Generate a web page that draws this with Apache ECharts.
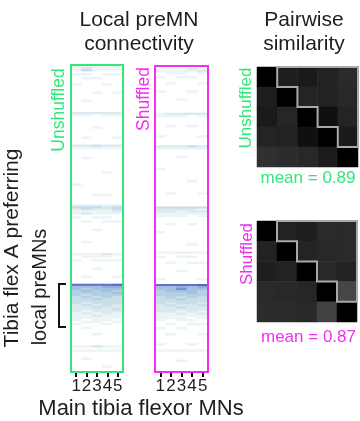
<!DOCTYPE html>
<html>
<head>
<meta charset="utf-8">
<script src="https://cdn.jsdelivr.net/npm/echarts@6/dist/echarts.min.js"></script>
<style>
html,body{margin:0;padding:0;background:#fff;}
#chart{width:360px;height:421px;}
</style>
</head>
<body>
<div id="chart"></div>
<script>
// ---------- DATA ----------
var mnLabels = ['1', '2', '3', '4', '5'];
var rowCount = 150;
// sparse rows: [rowIndex, MN1, MN2, MN3, MN4, MN5]  (0 = no connection, 10 = strongest)
var unshuffledRows = [
  [1,1,2,1,1,1],[2,1,3,1,1,1],[4,1,1,0,1,1],[6,0,1,1,0,0],[9,1,0,0,1,0],[13,0,0,1,0,1],[17,0,1,0,0,0],
  [23,2,2,2,2,2],[24,1,1,0,1,1],[30,0,0,1,0,0],[35,0,1,0,0,1],[39,2,2,3,2,2],[40,1,1,1,1,1],
  [45,0,1,0,0,0],[52,0,0,0,1,0],[58,1,0,0,0,0],[63,0,0,1,1,0],[68,1,1,1,1,1],[69,3,3,3,2,3],
  [70,2,3,2,2,3],[71,1,1,1,1,2],[72,1,2,1,1,1],[74,1,0,1,1,0],[76,0,1,0,1,1],[80,0,0,1,0,0],
  [86,0,1,0,0,0],[92,1,1,1,2,1],[93,0,1,1,1,0],[95,1,0,1,1,1],[99,0,0,1,0,0],[103,0,1,0,0,1],
  [107,8,8,8,8,9],[108,5,5,5,6,6],[109,5,4,5,5,5],[110,4,5,4,5,4],[111,4,4,4,4,5],[112,4,3,4,4,4],
  [113,3,4,3,4,3],[114,3,3,4,3,3],[115,3,3,3,3,3],[116,3,2,3,3,3],[117,2,3,2,3,2],[118,2,2,3,2,2],
  [119,2,2,2,2,3],[120,2,1,2,2,2],[121,1,2,1,2,1],[122,1,1,2,1,1],[123,1,1,1,1,1],[124,1,0,1,1,0],
  [125,0,1,1,0,1],[126,1,0,0,1,0],[128,0,1,0,0,0],[131,0,0,1,0,0],[137,1,1,2,1,1],[139,1,1,1,1,1],
  [143,0,1,0,0,0],[147,0,0,0,1,0]
];
var shuffledRows = [
  [1,1,1,1,2,1],[2,1,1,1,1,2],[3,0,1,1,0,1],[5,1,0,1,1,0],[8,0,1,0,0,1],[12,1,0,0,1,0],[16,0,0,1,0,0],
  [23,1,2,2,2,2],[24,1,1,1,0,1],[29,0,1,0,1,0],[34,1,0,0,0,1],[39,2,2,2,3,2],[40,1,1,1,1,1],
  [44,0,0,1,0,0],[50,1,0,0,0,0],[56,0,0,0,1,0],[62,0,1,0,0,1],[69,3,3,3,3,3],[70,2,2,2,2,1],
  [71,2,2,1,2,2],[72,1,1,1,1,1],[73,1,1,1,0,1],[77,0,1,0,1,0],[81,1,0,0,0,0],[87,0,0,0,1,0],
  [91,1,1,1,1,1],[93,1,0,1,1,0],[96,0,1,0,1,1],[100,0,0,1,0,0],[104,1,0,0,0,1],
  [107,8,8,8,8,9],[108,5,5,6,5,6],[109,5,5,7,5,5],[110,4,5,5,5,4],[111,4,4,4,5,4],[112,4,4,4,4,4],
  [113,3,4,3,4,3],[114,3,3,4,3,3],[115,3,3,3,3,3],[116,3,2,3,3,2],[117,2,3,2,2,3],[118,2,2,3,2,2],
  [119,2,2,2,2,2],[120,2,2,1,2,1],[121,1,1,2,1,2],[122,1,1,1,1,1],[123,1,1,1,0,1],[124,1,0,1,1,0],
  [126,0,1,0,1,1],[128,1,0,1,0,0],[131,0,1,0,0,1],[136,1,0,0,1,0],[139,1,1,1,1,1],[144,0,0,1,0,0]
];
// pairwise similarity matrices (rows top->bottom)
var simUnshuffled = [
  [1.000,0.918,0.929,0.907,0.885],
  [0.918,1.000,0.901,0.907,0.890],
  [0.929,0.896,1.000,0.956,0.901],
  [0.901,0.907,0.956,1.000,0.929],
  [0.868,0.879,0.890,0.923,1.000]
];
var simShuffled = [
  [1.000,0.907,0.918,0.885,0.885],
  [0.907,1.000,0.901,0.890,0.885],
  [0.918,0.907,1.000,0.890,0.907],
  [0.885,0.890,0.896,1.000,0.808],
  [0.879,0.879,0.890,0.819,1.000]
];
var meanUnshuffled = '0.89';
var meanShuffled = '0.87';
var bracketRows = [107, 127];

// ---------- BUILD ----------
var rowLabels = [];
for (var r = 0; r < rowCount; r++) rowLabels.push(String(r));
function toHeat(rows) {
  var out = [];
  rows.forEach(function (row) {
    for (var c = 0; c < 5; c++) if (row[c + 1] > 0) out.push([c, row[0], row[c + 1]]);
  });
  return out;
}
function toSim(m) {
  var out = [];
  for (var i = 0; i < m.length; i++) for (var j = 0; j < m[i].length; j++) out.push([j, i, m[i][j]]);
  return out;
}
var FONT = '"Liberation Sans", Arial, Helvetica, sans-serif';
var GREEN = '#33e57a', MAGENTA = '#f22ff0', TXT = '#1e1e1e';

function heatX(gi) {
  return {
    type: 'category', gridIndex: gi, data: mnLabels, boundaryGap: true,
    axisLine: { show: false },
    axisTick: { show: true, alignWithLabel: true, length: 5, lineStyle: { color: '#111', width: 2 } },
    axisLabel: { color: TXT, fontSize: 17, fontFamily: FONT, margin: 6, interval: 0 },
    splitLine: { show: false }
  };
}
function hiddenAxis(gi, data, inverse) {
  return { type: 'category', gridIndex: gi, data: data, inverse: !!inverse, show: false, boundaryGap: true };
}
function stairs(params, api) {
  var n = 5;
  var sz = api.size([1, 1]);
  var c0 = api.coord([0, 0]);
  var x0 = c0[0] - sz[0] / 2, y0 = c0[1] - sz[1] / 2;
  var pts = [[1, 0], [n, 0]];
  for (var k = n - 1; k >= 1; k--) { pts.push([k + 1, k]); pts.push([k, k]); }
  return {
    type: 'polygon',
    shape: { points: pts.map(function (p) { return [x0 + p[0] * sz[0], y0 + p[1] * sz[1]]; }) },
    style: { fill: 'none', stroke: '#a9a9a9', lineWidth: 2 }
  };
}
function bracket(params, api) {
  var sz = api.size([1, 1]);
  var a = api.coord([0, bracketRows[0]]);
  var b = api.coord([0, bracketRows[1]]);
  var xl = a[0] - sz[0] / 2 - 12;
  var top = a[1] - sz[1] / 2, bot = b[1] + sz[1] / 2;
  return {
    type: 'polyline',
    shape: { points: [[xl + 7, top], [xl, top], [xl, bot], [xl + 7, bot]] },
    style: { fill: 'none', stroke: '#111', lineWidth: 2 }
  };
}
function txt(text, x, y, color, size, rot, opts) {
  var o = {
    type: 'text', x: x, y: y, rotation: rot || 0, silent: true,
    style: { text: text, fill: color, font: size + 'px ' + FONT, textAlign: 'center', textVerticalAlign: 'middle' }
  };
  if (opts) for (var k in opts) o.style[k] = opts[k];
  return o;
}

var option = {
  animation: false,
  backgroundColor: '#fff',
  grid: [
    { left: 71, top: 65, width: 52, height: 307, show: true, borderColor: GREEN, borderWidth: 2, backgroundColor: 'rgba(0,0,0,0)', z: 10 },
    { left: 155, top: 66, width: 53, height: 306, show: true, borderColor: MAGENTA, borderWidth: 2, backgroundColor: 'rgba(0,0,0,0)', z: 10 },
    { left: 257, top: 67, width: 101, height: 100 },
    { left: 257, top: 221, width: 100, height: 101 }
  ],
  xAxis: [heatX(0), heatX(1), hiddenAxis(2, mnLabels), hiddenAxis(3, mnLabels)],
  yAxis: [hiddenAxis(0, rowLabels, true), hiddenAxis(1, rowLabels, true), hiddenAxis(2, mnLabels, true), hiddenAxis(3, mnLabels, true)],
  visualMap: [
    { type: 'continuous', show: false, seriesIndex: [0, 1], min: 0, max: 10, dimension: 2,
      inRange: { color: ['#ffffff', '#dbe9ef', '#b3d0e3', '#8ab2db', '#6a6acd', '#5a4cc0'] } },
    { type: 'continuous', show: false, seriesIndex: [2, 3], min: 0.6, max: 1, dimension: 2,
      inRange: { color: ['#919191', '#000000'] } }
  ],
  series: [
    { type: 'heatmap', xAxisIndex: 0, yAxisIndex: 0, data: toHeat(unshuffledRows), silent: true },
    { type: 'heatmap', xAxisIndex: 1, yAxisIndex: 1, data: toHeat(shuffledRows), silent: true },
    { type: 'heatmap', xAxisIndex: 2, yAxisIndex: 2, data: toSim(simUnshuffled), silent: true },
    { type: 'heatmap', xAxisIndex: 3, yAxisIndex: 3, data: toSim(simShuffled), silent: true },
    { type: 'custom', xAxisIndex: 2, yAxisIndex: 2, data: [[0, 0]], renderItem: stairs, clip: false, z: 5, silent: true },
    { type: 'custom', xAxisIndex: 3, yAxisIndex: 3, data: [[0, 0]], renderItem: stairs, clip: false, z: 5, silent: true },
    { type: 'custom', xAxisIndex: 0, yAxisIndex: 0, data: [[0, bracketRows[0]]], renderItem: bracket, clip: false, z: 5, silent: true }
  ],
  graphic: [
    txt('Local preMN\nconnectivity', 139, 32.7, TXT, 21, 0, { lineHeight: 24 }),
    txt('Pairwise\nsimilarity', 304, 32.7, TXT, 21, 0, { lineHeight: 24 }),
    txt('Unshuffled', 59, 110, GREEN, 17.5, Math.PI / 2),
    txt('Shuffled', 144, 99, MAGENTA, 17.5, Math.PI / 2),
    txt('Unshuffled', 246, 108, GREEN, 17, Math.PI / 2),
    txt('Shuffled', 247, 254, MAGENTA, 17, Math.PI / 2),
    txt('mean = ' + meanUnshuffled, 308, 178, GREEN, 17, 0),
    txt('mean = ' + meanShuffled, 308.5, 337, MAGENTA, 17, 0),
    txt('Tibia flex A preferring', 12, 248, TXT, 21, Math.PI / 2),
    txt('local preMNs', 40, 287, TXT, 20, Math.PI / 2),
    txt('Main tibia flexor MNs', 141, 409, TXT, 22, 0)
  ]
};
var chart = echarts.init(document.getElementById('chart'), null, { renderer: 'canvas' });
chart.setOption(option);
</script>
</body>
</html>
